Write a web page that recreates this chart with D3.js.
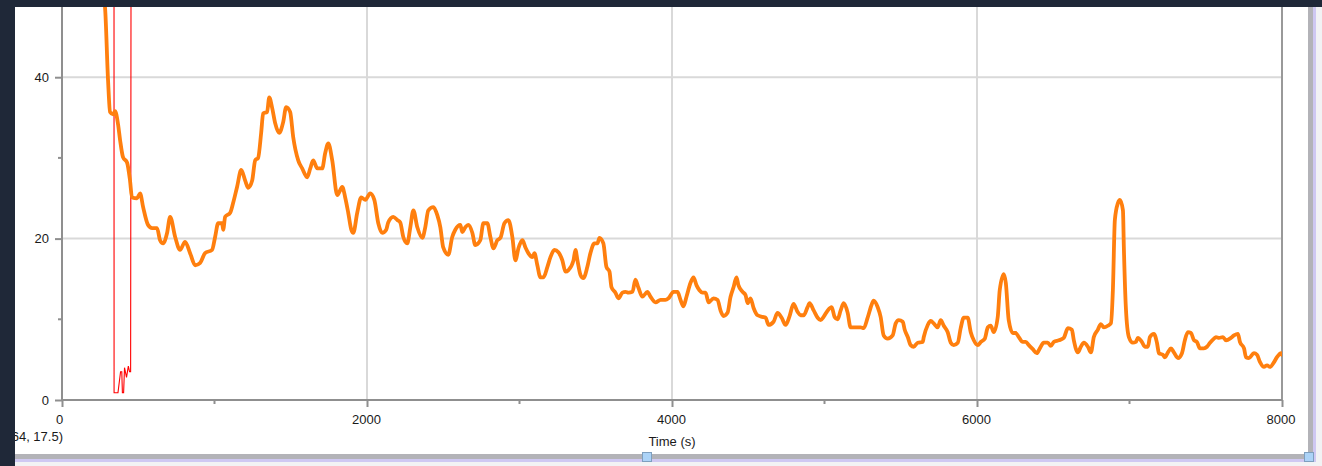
<!DOCTYPE html>
<html>
<head>
<meta charset="utf-8">
<script src="https://cdn.jsdelivr.net/npm/d3@7"></script>
<style>
  html, body { margin: 0; padding: 0; background: #1f2838; }
  svg { display: block; }
  text { font-family: "Liberation Sans", Arial, Helvetica, sans-serif; }
</style>
</head>
<body>
<svg id="chart" width="1322" height="466"></svg>
<script>
// Smoothed signal (orange) sampled over time, in seconds
const orangeTime = [263,282,302,315,335,348,368,381,400,427,446,459,492,512,532,564,591,623,643,663,689,709,742,774,807,840,873,906,938,984,1004,1024,1050,1057,1070,1103,1122,1148,1175,1201,1221,1247,1267,1286,1306,1319,1345,1359,1378,1398,1424,1450,1470,1496,1516,1549,1575,1608,1628,1647,1674,1706,1726,1746,1772,1805,1838,1857,1877,1897,1910,1936,1962,1989,2021,2048,2074,2100,2126,2139,2172,2199,2218,2238,2264,2284,2304,2330,2363,2382,2402,2435,2461,2481,2500,2533,2559,2579,2612,2625,2645,2664,2691,2710,2743,2763,2789,2809,2829,2855,2875,2901,2927,2953,2973,2993,3019,3039,3058,3085,3098,3117,3137,3157,3183,3203,3229,3255,3281,3301,3321,3354,3367,3380,3400,3419,3445,3465,3491,3511,3524,3550,3570,3590,3603,3629,3649,3675,3695,3715,3741,3760,3780,3806,3839,3859,3892,3925,3957,3977,4010,4036,4056,4075,4095,4121,4141,4161,4180,4200,4220,4240,4272,4299,4318,4338,4364,4384,4404,4423,4436,4463,4482,4496,4515,4535,4561,4594,4614,4633,4666,4692,4719,4745,4771,4797,4824,4843,4863,4889,4902,4929,4955,4975,4994,5021,5047,5066,5086,5106,5126,5152,5171,5204,5237,5257,5283,5309,5322,5349,5368,5388,5414,5447,5467,5487,5513,5526,5546,5565,5585,5611,5644,5651,5677,5697,5716,5742,5762,5782,5808,5828,5847,5874,5893,5913,5939,5959,5979,6005,6025,6051,6071,6090,6110,6136,6149,6176,6189,6208,6235,6254,6274,6300,6320,6340,6366,6392,6412,6438,6464,6484,6504,6537,6569,6596,6622,6635,6661,6681,6701,6727,6747,6766,6792,6812,6832,6858,6878,6891,6904,6924,6937,6957,6963,6976,6996,7022,7042,7055,7081,7101,7121,7134,7160,7180,7193,7219,7232,7252,7272,7291,7318,7344,7363,7383,7403,7423,7442,7462,7488,7508,7528,7554,7567,7587,7613,7633,7665,7685,7711,7724,7751,7764,7783,7816,7836,7856,7882,7902,7921,7948,7967,7994,8000];
const orangeValue = [50.8,48.7,39.6,35.7,35.4,35.8,34.1,32.2,30.1,29.4,27.2,25.1,25.0,25.6,23.9,21.7,21.3,21.3,19.8,19.4,20.7,22.7,20.2,18.6,19.6,18.2,16.7,17.0,18.2,18.6,20.2,21.9,21.9,21.1,22.7,23.2,24.4,26.4,28.5,27.2,26.3,27.2,29.7,30.0,33.1,35.5,35.7,37.5,36.2,34.3,33.1,34.4,36.3,35.7,32.6,29.7,28.7,27.6,28.7,29.7,28.7,28.7,30.6,31.8,29.7,25.4,26.4,25.1,23.2,21.1,20.7,23.2,25.1,24.8,25.6,24.8,21.9,20.7,21.1,22.0,22.7,22.3,22.0,20.2,19.4,21.4,23.5,21.4,20.1,21.4,23.5,23.9,22.9,21.4,18.9,18.0,20.2,21.1,21.7,20.8,21.4,21.7,20.7,19.2,19.8,21.9,21.9,20.2,18.8,19.8,20.1,21.9,22.3,20.2,17.3,18.8,19.8,18.9,18.2,17.7,18.2,16.7,15.2,15.2,16.5,17.7,18.6,18.3,17.3,15.9,16.1,17.3,18.6,17.3,15.5,15.1,16.5,18.2,19.4,19.4,20.1,19.4,16.5,15.9,14.0,13.3,12.6,13.3,13.4,13.3,13.4,14.9,13.9,12.8,13.4,12.8,12.1,12.4,12.4,12.6,13.4,13.4,12.4,11.6,12.8,14.5,15.2,14.2,13.6,13.3,13.3,12.1,12.6,12.4,11.1,10.4,10.8,12.8,14.0,15.2,14.2,13.4,13.0,12.0,12.6,11.4,10.5,10.3,10.2,9.3,9.7,10.8,10.2,9.3,10.4,11.9,10.9,10.5,10.5,11.5,12.0,11.1,10.2,9.9,10.3,11.1,11.5,10.3,10.0,11.1,12.0,10.8,9.0,9.0,9.0,8.9,10.2,11.8,12.3,11.5,10.3,8.0,7.6,8.0,9.5,9.9,9.7,8.7,7.8,6.8,6.6,7.1,7.2,7.8,9.3,9.8,9.5,9.0,9.9,9.2,8.4,7.1,6.8,7.1,8.9,10.2,10.2,8.4,7.4,6.8,7.2,7.6,9.0,9.2,8.4,10.3,13.6,15.6,14.5,9.9,8.3,8.3,7.8,7.2,7.2,6.8,6.3,5.8,6.4,7.1,7.1,6.7,7.2,7.4,7.7,8.9,8.7,7.4,5.9,6.6,7.1,6.6,5.9,7.8,8.7,9.4,9.0,9.2,9.5,13.6,22.3,24.4,24.8,23.5,18.9,11.5,7.8,7.1,7.2,7.7,7.2,6.6,6.6,7.8,8.2,7.1,5.8,5.6,5.3,5.9,6.4,5.9,5.2,5.8,7.4,8.4,8.3,7.4,7.2,6.4,6.4,6.6,7.1,7.6,7.8,7.7,7.8,7.4,7.7,8.0,8.2,7.2,6.4,5.3,5.2,5.8,5.6,4.7,4.1,4.3,4.1,4.7,5.3,5.8,5.6];

// Raw signal (red) over its short recorded window
const redTime  = [341,341.5,367,384,392,396,404,410,423,435,443,450,453];
const redValue = [60,0.9,0.9,3.5,3.5,0.9,0.9,4.0,2.8,4.2,3.5,3.5,60];

// Axis ticks
const xMajorTicks = [0,2000,4000,6000,8000];
const xMinorTicks = [1000,3000,5000,7000];
const yMajorTicks = [0,20,40];
const yMinorTicks = [10,30];
const xTitle = "Time (s)";
const cursorReadout = "(64, 17.5)";

const W = 1322, H = 466;
const plot = { left: 62, right: 1282, top: 7, bottom: 400 };
const fontSize = 13;

const svg = d3.select("#chart");

// Window frame: white panel, scroll bars
svg.append("rect").attr("x", 0).attr("y", 0).attr("width", W).attr("height", H).attr("fill", "#1f2838");
svg.append("rect").attr("x", 15).attr("y", 7).attr("width", W - 15).attr("height", H - 7).attr("fill", "#f2f2f4");
svg.append("rect").attr("x", 15).attr("y", 7).attr("width", 1293).attr("height", 447).attr("fill", "#ffffff");
// bottom bar
svg.append("rect").attr("x", 15).attr("y", 454).attr("width", 1299).attr("height", 5).attr("fill", "#b3b3b8");
svg.append("rect").attr("x", 15).attr("y", 459).attr("width", 1301).attr("height", 3).attr("fill", "#cfc8f2");
// right bar
svg.append("rect").attr("x", 1308).attr("y", 7).attr("width", 5).attr("height", 452).attr("fill", "#b3b3b8");
svg.append("rect").attr("x", 1313).attr("y", 7).attr("width", 3).attr("height", 455).attr("fill", "#cfc8f2");

const x = d3.scaleLinear().domain([0, 8000]).range([plot.left, plot.right]);
const y = d3.scaleLinear().domain([0, 48.7]).range([plot.bottom, plot.top]);

// Grid lines
const grid = svg.append("g");
grid.selectAll("line.gx").data(xMajorTicks.filter(d => d > 0 && d < 8000)).join("line")
  .attr("x1", d => x(d)).attr("x2", d => x(d))
  .attr("y1", plot.top).attr("y2", plot.bottom)
  .attr("stroke", "#d9d9d9").attr("stroke-width", 2);
grid.selectAll("line.gy").data(yMajorTicks.filter(d => d > 0)).join("line")
  .attr("x1", plot.left).attr("x2", plot.right)
  .attr("y1", d => y(d)).attr("y2", d => y(d))
  .attr("stroke", "#d9d9d9").attr("stroke-width", 2);

// Right plot border
svg.append("line")
  .attr("x1", x(8000)).attr("x2", x(8000)).attr("y1", plot.top).attr("y2", plot.bottom)
  .attr("stroke", "#999").attr("stroke-width", 2);

// Series, clipped to the plot area
svg.append("clipPath").attr("id", "plotClip").append("rect")
  .attr("x", plot.left).attr("y", plot.top)
  .attr("width", plot.right - plot.left).attr("height", plot.bottom - plot.top);

const series = svg.append("g").attr("clip-path", "url(#plotClip)");

const redLine = d3.line().x((d, i) => x(redTime[i])).y(d => y(d));
series.append("path").datum(redValue)
  .attr("d", redLine).attr("fill", "none")
  .attr("stroke", "#ff0000").attr("stroke-width", 1.1);

const orangeLine = d3.line().curve(d3.curveMonotoneX)
  .x((d, i) => x(orangeTime[i])).y(d => y(d));
series.append("path").datum(orangeValue)
  .attr("d", orangeLine).attr("fill", "none")
  .attr("stroke", "#ff7f0e").attr("stroke-width", 3.8)
  .attr("stroke-linejoin", "round").attr("stroke-linecap", "round");

// Axes
const axisColor = "#8f8f8f";
const xAxis = svg.append("g").attr("transform", `translate(0,${plot.bottom})`)
  .call(d3.axisBottom(x).tickValues(xMajorTicks).tickSize(7).tickPadding(8).tickFormat(d3.format("d")));
const yAxis = svg.append("g").attr("transform", `translate(${plot.left},0)`)
  .call(d3.axisLeft(y).tickValues(yMajorTicks).tickSize(7).tickPadding(6).tickFormat(d3.format("d")));

[xAxis, yAxis].forEach(g => {
  g.select(".domain").attr("stroke", axisColor).attr("stroke-width", 2);
  g.selectAll(".tick line").attr("stroke", axisColor).attr("stroke-width", 2);
  g.selectAll(".tick text").attr("fill", "#1a1a1a").attr("font-size", fontSize)
    .attr("font-family", "'Liberation Sans', Arial, sans-serif");
});
yAxis.select(".domain").attr("d", `M0,${plot.top}V${plot.bottom}`);
xAxis.select(".domain").attr("d", `M${plot.left},0H${plot.right}`);
// nudge the end labels inward, as the first one sits left of its tick
xAxis.selectAll(".tick text").attr("dx", d => d === 0 ? -3 : (d === 8000 ? -1.5 : -1));

// Minor ticks
svg.append("g").selectAll("line").data(xMinorTicks).join("line")
  .attr("x1", d => x(d)).attr("x2", d => x(d))
  .attr("y1", plot.bottom).attr("y2", plot.bottom + 4)
  .attr("stroke", axisColor).attr("stroke-width", 2);
svg.append("g").selectAll("line").data(yMinorTicks).join("line")
  .attr("x1", plot.left - 4).attr("x2", plot.left)
  .attr("y1", d => y(d)).attr("y2", d => y(d))
  .attr("stroke", axisColor).attr("stroke-width", 2);

// Axis title
svg.append("text").attr("x", (plot.left + plot.right) / 2).attr("y", 446)
  .attr("text-anchor", "middle").attr("font-size", fontSize).attr("fill", "#1a1a1a")
  .text(xTitle);

// Cursor coordinate readout
svg.append("text").attr("x", 63).attr("y", 441)
  .attr("text-anchor", "end").attr("font-size", fontSize).attr("fill", "#1a1a1a")
  .text(cursorReadout);

// Left and top window chrome drawn over the panel edge
svg.append("rect").attr("x", 0).attr("y", 0).attr("width", 15).attr("height", H).attr("fill", "#1f2838");
svg.append("rect").attr("x", 0).attr("y", 0).attr("width", W).attr("height", 7).attr("fill", "#1f2838");

// Scroll handles
[[642, 452], [1304, 452]].forEach(([hx, hy]) => {
  svg.append("rect").attr("x", hx + 0.5).attr("y", hy + 0.5).attr("width", 9).attr("height", 9)
    .attr("fill", "#acd3f7").attr("stroke", "#7e9fbf").attr("stroke-width", 1);
});
</script>
</body>
</html>
